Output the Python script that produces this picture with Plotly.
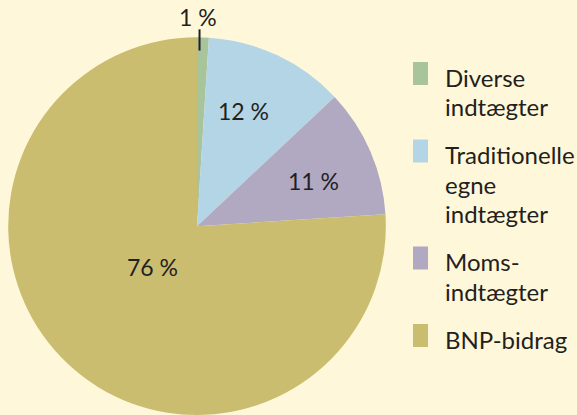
import math
import plotly.graph_objects as go

categories = ["Diverse indtægter", "Traditionelle egne indtægter", "Moms-indtægter", "BNP-bidrag"]
legend_lines = [["Diverse", "indtægter"], ["Traditionelle", "egne", "indtægter"], ["Moms-", "indtægter"], ["BNP-bidrag"]]
values = [1, 12, 11, 76]
pct_text = ["1 %", "12 %", "11 %", "76 %"]
colors = ["#A8C49B", "#B3D5E6", "#B1A8C2", "#CBBD70"]
# label placement: (fraction along slice, radius fraction)
label_pos = [(0.5, 1.11), (0.43, 0.657), (0.56, 0.663), (0.517, 0.32)]

W, H = 577, 415
BG = "#FFF7D9"
TXT = "#231F20"
FONT = "Lato, 'Open Sans', sans-serif"

dom_x = [0.0139, 0.669]
dom_y = [0.0, 0.91]

fig = go.Figure(go.Pie(
    labels=categories, values=values, sort=False, direction="clockwise", rotation=0,
    marker=dict(colors=colors, line=dict(width=0)),
    textinfo="none", hoverinfo="label+percent",
    domain=dict(x=dom_x, y=dom_y), showlegend=False,
))

def P(px, py):
    return px / W, 1 - py / H

# pie geometry in pixels
cx = (dom_x[0] + dom_x[1]) / 2 * W
cy = H - (dom_y[0] + dom_y[1]) / 2 * H
R = min((dom_x[1] - dom_x[0]) * W, (dom_y[1] - dom_y[0]) * H) / 2
total = sum(values)
cum = 0
for v, t, (ff, rf) in zip(values, pct_text, label_pos):
    ang = (cum + v * ff) / total * 2 * math.pi
    cum += v
    px = cx + math.sin(ang) * R * rf
    py = cy - math.cos(ang) * R * rf
    if rf > 1:
        px -= 6
        lx = cx + math.sin(ang) * R * 0.93 - 3
        x0, y0 = P(lx, cy - R - 8)
        x1, y1 = P(lx, cy - R * 0.93)
        fig.add_shape(type="line", xref="paper", yref="paper",
                      x0=x0, x1=x1, y0=y0, y1=y1,
                      line=dict(color=TXT, width=2))
    ax, ay = P(px, py)
    fig.add_annotation(x=ax, y=ay, xref="paper", yref="paper",
                       text=t, showarrow=False, xanchor="center", yanchor="middle",
                       font=dict(family=FONT, size=23, color=TXT))

# legend (manual, to match the tall swatches and line spacing)
LEG_FS = 24
line_h = 29.5
item_gap = 18.5
sw_x0, sw_x1, txt_x = 413, 428, 443
base = 86
for col, lines in zip(colors, legend_lines):
    x0, y0 = P(sw_x0, base - 24)
    x1, y1 = P(sw_x1, base - 1)
    fig.add_shape(type="rect", xref="paper", yref="paper", x0=x0, x1=x1, y0=y0, y1=y1,
                  fillcolor=col, line=dict(width=0))
    for i, ln in enumerate(lines):
        tx, ty = P(txt_x, base + i * line_h - 0.36 * LEG_FS)
        fig.add_annotation(x=tx, y=ty, xref="paper", yref="paper", text=ln,
                           showarrow=False, xanchor="left", yanchor="middle",
                           font=dict(family=FONT, size=LEG_FS, color=TXT))
    base += len(lines) * line_h + item_gap

fig.update_layout(
    width=W, height=H,
    paper_bgcolor=BG, plot_bgcolor=BG,
    margin=dict(l=0, r=0, t=0, b=0),
    showlegend=False,
)

fig.write_html("out.html", config={"displayModeBar": False},
               post_script="document.body.style.margin='0';")
